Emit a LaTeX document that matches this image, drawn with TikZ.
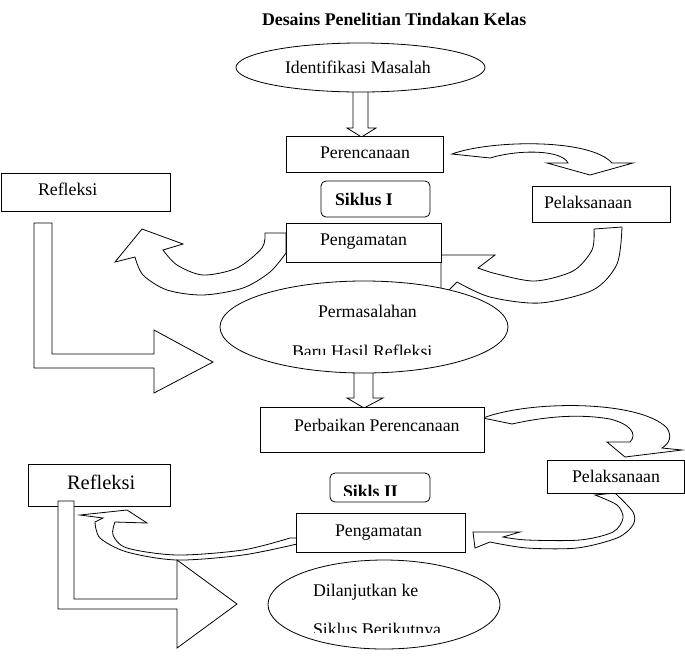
\documentclass[tikz,border=0pt]{standalone}
\usepackage{fontspec}
\setmainfont{Liberation Serif}
\usetikzlibrary{shapes.geometric}
\begin{document}
\begin{tikzpicture}[x=1pt,y=-1pt,
  line join=miter,
  outl/.style={draw=black, line width=0.8pt, fill=white},
  box/.style={outl, rectangle, inner sep=0pt, outer sep=0pt},
  rbox/.style={box, rounded corners=5pt},
  ell/.style={outl, ellipse, inner sep=0pt, outer sep=0pt},
  txt/.style={inner sep=0pt, outer sep=0pt, anchor=base west, font=\fontsize{17.8}{20}\selectfont},
  btxt/.style={txt, font=\fontsize{17.8}{20}\selectfont\bfseries},
  bigtxt/.style={txt, font=\fontsize{20.5}{23}\selectfont}]
\useasboundingbox (0,0) rectangle (685,657);

% title
\node[btxt] (title) at (262,25) {Desains Penelitian Tindakan Kelas};

% down block arrows
\draw[outl] (353,85) -- (368,85) -- (368,128) -- (376,128) -- (361.5,137) -- (347,128) -- (353,128) -- cycle;
\draw[outl] (354,362) -- (373,362) -- (373,398) -- (383,398) -- (364,408) -- (347,398) -- (354,398) -- cycle;

% curved block arrows, cycle I
\draw[outl] (452,154) .. controls (490,140) and (590,138) .. (612,163) -- (633,163) -- (590,175) -- (547,163) -- (568,163) .. controls (562,150) and (520,149) .. (490,158) -- cycle;
\draw[outl] plot[smooth] coordinates {(594,229) (592,250) (573,271) (535,281) (497,274) (478,268)} -- (495,255) -- (441,255) -- (441,289) -- (448,291) -- (457,282) -- plot[smooth] coordinates {(457,282) (490,297) (540,303) (593,290) (617,264) (622,227)} -- cycle;
\draw[outl] plot[smooth] coordinates {(265,233) (262,248) (237,268) (203,275) (177,265) (163,250)} -- (183,244) -- (142,229) -- (115,262) -- (135,257) -- plot[smooth] coordinates {(135,257) (143,275) (167,290) (203,295) (243,288) (270,272) (286,253)} -- (286,233) -- cycle;

% curved block arrows, cycle II
\draw[outl] (483,418) .. controls (530,400) and (640,400) .. (667,428) .. controls (672,436) and (670,443) .. (662,448) -- (682,450) -- (625,457) -- (607,442) -- (630,442) .. controls (638,434) and (630,424) .. (610,419) .. controls (570,412) and (530,420) .. (512,424) -- cycle;
\draw[outl] plot[smooth] coordinates {(595,495) (617,505) (623,518) (613,532) (580,540) (527,540) (503,537)} -- (520,532) -- (473,532) -- (475,548) -- (490,542) -- plot[smooth] coordinates {(490,542) (527,548) (577,548) (617,538) (633,525) (633,512) (615,493)} -- cycle;
\draw[outl] (297,538) -- plot[smooth] coordinates {(290,538) (243,550) (177,555) (127,548) (113,535) (115,522)} -- (147,523) -- (127,510) -- (80,515) -- (103,518) -- (95,522) -- plot[smooth] coordinates {(95,522) (100,538) (127,552) (177,560) (243,555) (297,544)} -- cycle;

% ellipses
\node[ell, minimum width=249, minimum height=49] (ident) at (360.5,67.5) {};
\node[ell, minimum width=288, minimum height=92] (perm) at (364,327) {};
\node[ell, minimum width=232, minimum height=89] (dilan) at (384,604.5) {};

% boxes
\node[box, minimum width=157, minimum height=36] (perenc) at (364.5,154) {};
\node[rbox, minimum width=109, minimum height=36] (sik1) at (375.5,199) {};
\node[box, minimum width=155, minimum height=39] (peng1) at (363.5,242.5) {};
\node[box, minimum width=138, minimum height=36] (pelak1) at (601,204) {};
\node[box, minimum width=169, minimum height=38] (refl1) at (85.5,192) {};
\node[box, minimum width=224, minimum height=45] (perb) at (372,429.5) {};
\node[rbox, minimum width=100, minimum height=29] (sik2) at (380,487.5) {};
\node[box, minimum width=169, minimum height=39] (peng2) at (380.5,532.5) {};
\node[box, minimum width=137, minimum height=33] (pelak2) at (615.5,476.5) {};
\node[box, minimum width=142, minimum height=42] (refl2) at (99,485) {};

% L-shaped block arrows
\draw[outl] (34,223) -- (52,223) -- (52,354) -- (154,354) -- (154,330) -- (213,362) -- (154,393) -- (154,368) -- (34,368) -- cycle;
\draw[outl] (58,501) -- (74,501) -- (74,599) -- (177,599) -- (177,560) -- (237,604) -- (177,648) -- (177,609) -- (58,609) -- cycle;

% texts
\node[txt] (tident) at (285,73) {Identifikasi Masalah};
\node[txt] (tperenc) at (320,158) {Perencanaan};
\node[btxt] (tsik1) at (335,205) {Siklus I};
\node[txt] (tpeng1) at (320,245) {Pengamatan};
\node[txt] (tpelak1) at (544,208) {Pelaksanaan};
\node[txt] (trefl1) at (38,195) {Refleksi};
\node[txt] (tperm1) at (318,317) {Permasalahan};
\begin{scope}
\clip (250,330) rectangle (480,354);
\node[txt] (tperm2) at (292,357) {Baru Hasil Refleksi};
\end{scope}
\node[txt] (tperb) at (294,431) {Perbaikan Perencanaan};
\begin{scope}
\clip (335,478) rectangle (425,495);
\node[btxt] (tsik2) at (343,497) {Sikls II};
\end{scope}
\node[txt] (tpeng2) at (335,536) {Pengamatan};
\node[txt] (tpelak2) at (572,482) {Pelaksanaan};
\node[bigtxt] (trefl2) at (67,489) {Refleksi};
\node[txt] (tdil1) at (313,596) {Dilanjutkan ke};
\begin{scope}
\clip (290,612) rectangle (480,632);
\node[txt] (tdil2) at (313,635) {Siklus Berikutnya};
\end{scope}
\end{tikzpicture}
\end{document}
